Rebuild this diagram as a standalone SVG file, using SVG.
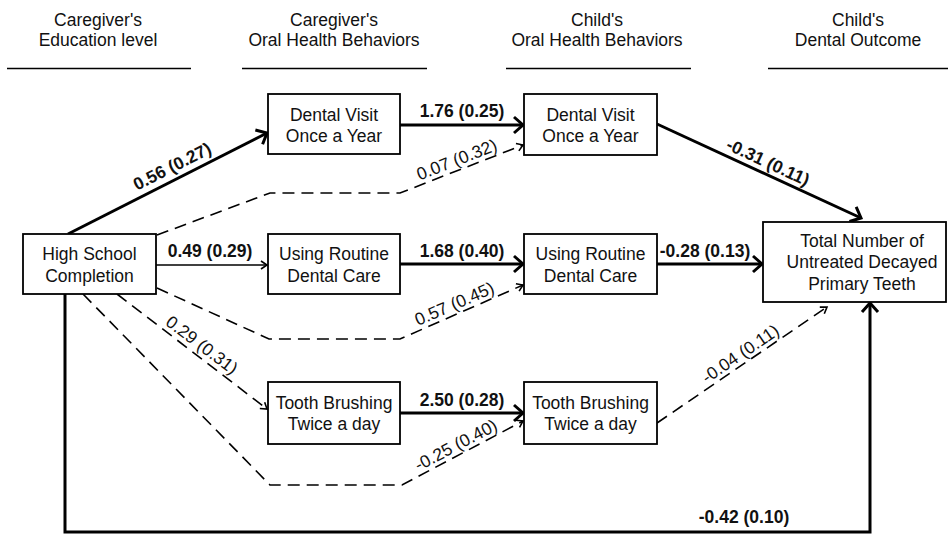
<svg xmlns="http://www.w3.org/2000/svg" width="948" height="535" viewBox="0 0 948 535">
<style>
text{font-family:"Liberation Sans",Arial,sans-serif;font-size:17.5px;fill:#111}
.h{text-anchor:middle}
.b{font-weight:bold}
.box{fill:#fff;stroke:#000;stroke-width:1.8}
.hl{stroke:#000;stroke-width:1.6}
.thick{fill:none;stroke:#000;stroke-width:3;marker-end:url(#ak)}
.thin{fill:none;stroke:#000;stroke-width:1.6;marker-end:url(#at)}
.dash{fill:none;stroke:#000;stroke-width:1.6;stroke-dasharray:12 7;marker-end:url(#at)}
</style>
<defs>
<marker id="ak" markerUnits="userSpaceOnUse" markerWidth="22" markerHeight="22" refX="12" refY="11" orient="auto" overflow="visible">
<path d="M3,3 L12,11 L3,19" fill="none" stroke="#000" stroke-width="3" stroke-dasharray="none"/>
</marker>
<marker id="at" markerUnits="userSpaceOnUse" markerWidth="14" markerHeight="14" refX="8" refY="7" orient="auto" overflow="visible">
<path d="M2,3 L8,7 L2,11" fill="none" stroke="#000" stroke-width="1.6" stroke-dasharray="none"/>
</marker>
</defs>

<g id="headers">
<text class="h" x="98" y="26">Caregiver's</text>
<text class="h" x="98" y="46">Education level</text>
<line class="hl" x1="7" y1="68.5" x2="191" y2="68.5"/>
<text class="h" x="334" y="26">Caregiver's</text>
<text class="h" x="334" y="46">Oral Health Behaviors</text>
<line class="hl" x1="242" y1="68.5" x2="427" y2="68.5"/>
<text class="h" x="597" y="26">Child's</text>
<text class="h" x="597" y="46">Oral Health Behaviors</text>
<line class="hl" x1="506" y1="68.5" x2="691" y2="68.5"/>
<text class="h" x="858" y="26">Child's</text>
<text class="h" x="858" y="46">Dental Outcome</text>
<line class="hl" x1="768" y1="68.5" x2="948" y2="68.5"/>
</g>

<g id="connectors">
<path class="thick" d="M68,234 L267,133"/>
<path class="dash" d="M157,235 L270,193 L400,193 L523,145"/>
<path class="thin" d="M156,265 L267,265"/>
<path class="dash" d="M157,288 L269,339 L400,339 L523,285"/>
<path class="dash" d="M117,294 L267,409"/>
<path class="dash" d="M83,294 L270,485 L402,485 L523,421"/>
<path class="thick" d="M400,125 L523,125"/>
<path class="thick" d="M400,264 L523,264"/>
<path class="thick" d="M400,413 L523,413"/>
<path class="thick" d="M657,124 L861,218"/>
<path class="thick" d="M657,264 L762,264"/>
<path class="dash" d="M657,423 L827,307"/>
<path class="thick" d="M65,294 L65,532 L870,532 L870,303"/>

<text class="b h" transform="translate(178,178) rotate(-26.8)" y="-7">0.56 (0.27)</text>
<text class="h" transform="translate(460,168) rotate(-21.2)" y="-3">0.07 (0.32)</text>
<text class="b h" x="210" y="257">0.49 (0.29)</text>
<text class="h" transform="translate(458,312) rotate(-23.5)" y="-3">0.57 (0.45)</text>
<text class="h" transform="translate(196,353) rotate(37)" y="-4">0.29 (0.31)</text>
<text class="h" transform="translate(460,453) rotate(-27.7)" y="-3">-0.25 (0.40)</text>
<text class="b h" x="462" y="117">1.76 (0.25)</text>
<text class="b h" x="462" y="257">1.68 (0.40)</text>
<text class="b h" x="462" y="406">2.50 (0.28)</text>
<text class="b h" transform="translate(763,173) rotate(24.9)" y="-6">-0.31 (0.11)</text>
<text class="b h" x="705" y="257">-0.28 (0.13)</text>
<text class="h" transform="translate(746,362) rotate(-34.4)" y="-4">-0.04 (0.11)</text>
<text class="b h" x="744" y="523">-0.42 (0.10)</text>
</g>

<g id="hsc">
<rect class="box" x="23" y="234" width="133" height="60"/>
<text class="h" x="89.5" y="260">High School</text>
<text class="h" x="89.5" y="282">Completion</text>
</g>
<g id="cg-visit">
<rect class="box" x="268" y="94" width="132" height="60"/>
<text class="h" x="334" y="121">Dental Visit</text>
<text class="h" x="334" y="142">Once a Year</text>
</g>
<g id="cg-routine">
<rect class="box" x="268" y="234" width="132" height="60"/>
<text class="h" x="334" y="260">Using Routine</text>
<text class="h" x="334" y="282">Dental Care</text>
</g>
<g id="cg-brush">
<rect class="box" x="268" y="382" width="132" height="62"/>
<text class="h" x="334" y="409">Tooth Brushing</text>
<text class="h" x="334" y="430">Twice a day</text>
</g>
<g id="ch-visit">
<rect class="box" x="524" y="94" width="133" height="61"/>
<text class="h" x="590.5" y="121">Dental Visit</text>
<text class="h" x="590.5" y="142">Once a Year</text>
</g>
<g id="ch-routine">
<rect class="box" x="524" y="234" width="133" height="60"/>
<text class="h" x="590.5" y="260">Using Routine</text>
<text class="h" x="590.5" y="282">Dental Care</text>
</g>
<g id="ch-brush">
<rect class="box" x="524" y="382" width="133" height="62"/>
<text class="h" x="590.5" y="409">Tooth Brushing</text>
<text class="h" x="590.5" y="430">Twice a day</text>
</g>
<g id="outcome">
<rect class="box" x="763" y="222" width="183" height="80"/>
<text class="h" x="862" y="247">Total Number of</text>
<text class="h" x="862" y="268">Untreated Decayed</text>
<text class="h" x="862" y="290">Primary Teeth</text>
</g>
</svg>
